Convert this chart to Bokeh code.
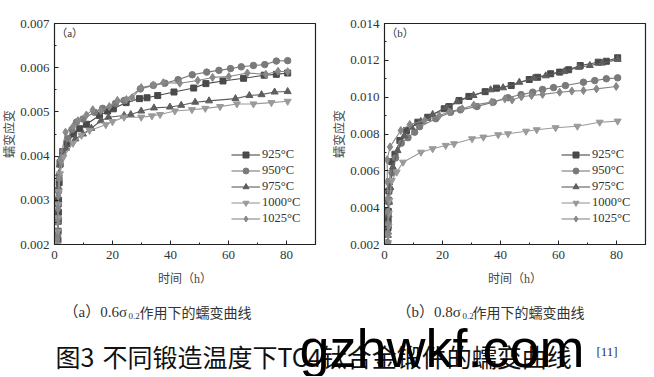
from bokeh.plotting import figure
from bokeh.layouts import row, column
from bokeh.models import Range1d, SingleIntervalTicker, NumeralTickFormatter, Label
from bokeh.core.properties import value
from bokeh.embed import file_html
from bokeh.resources import INLINE

# ---------------- data: (a) 0.6 sigma0.2 ----------------
ta_925 = [1.2,1.25,1.3,1.35,1.4,1.6,1.9,2.8,4.3,6.5,8.7,11.0,15.5,18.3,20.3,24.7,29.3,31.9,35.6,41.2,48.0,52.2,58.1,65.2,72.3,76.5,80.4]
va_925 = [0.0021,0.0023,0.00254,0.00273,0.0030,0.0034,0.00385,0.0041,0.00428,0.0045,0.00462,0.00472,0.00492,0.00502,0.00507,0.00521,0.0053,0.00532,0.00537,0.00545,0.00554,0.00564,0.0057,0.00576,0.00583,0.00585,0.00588]
ta_950 = [1.1,1.2,1.3,1.4,1.6,2.0,2.9,4.6,6.0,7.6,9.8,13.8,16.6,21.0,24.0,29.6,34.1,38.1,42.6,47.5,52.5,56.7,60.7,64.4,68.6,72.5,76.5,80.4]
va_950 = [0.0022,0.0026,0.0029,0.0032,0.0035,0.0038,0.0041,0.0044,0.0046,0.00477,0.00484,0.00499,0.00508,0.00519,0.00526,0.00552,0.0056,0.00565,0.00573,0.00584,0.0059,0.00594,0.00598,0.00602,0.00605,0.00607,0.00615,0.00616]
ta_975 = [1.1,1.2,1.3,1.5,1.8,2.4,4.0,7.2,9.8,12.7,16.0,18.6,24.0,26.3,29.9,34.3,39.8,43.7,48.5,53.3,62.4,67.2,71.4,75.9,80.4]
va_975 = [0.0025,0.0029,0.0033,0.0036,0.0038,0.0040,0.00418,0.00439,0.0045,0.00463,0.0048,0.00488,0.00492,0.00494,0.00502,0.00509,0.00511,0.00515,0.00522,0.00525,0.0053,0.00537,0.00539,0.00545,0.00546]
ta_1000 = [1.0,1.1,1.2,1.3,1.5,1.9,3.1,6.4,9.3,12.1,17.7,20.0,24.0,29.9,33.6,36.4,41.5,47.4,52.0,57.1,62.9,68.6,74.8,80.4]
va_1000 = [0.0020,0.0023,0.0026,0.0029,0.0032,0.0036,0.00398,0.00429,0.00447,0.00458,0.00471,0.00478,0.00488,0.00488,0.00491,0.00494,0.00502,0.00505,0.00508,0.00512,0.00518,0.00518,0.00521,0.00524]
ta_1025 = [1.0,1.1,1.2,1.3,1.5,2.0,3.8,6.4,8.1,11.0,13.2,16.0,18.9,21.7,24.8,26.8,29.9,34.1,37.5,43.2,49.4,54.5,60.1,66.5,72.9,77.1,80.4]
va_1025 = [0.0021,0.0025,0.0028,0.0031,0.0035,0.0039,0.00454,0.00467,0.0048,0.00493,0.00505,0.00503,0.00512,0.00526,0.00528,0.00532,0.00555,0.00561,0.00566,0.00565,0.00571,0.00578,0.0058,0.00588,0.00585,0.00592,0.00591]

# ---------------- data: (b) 0.8 sigma0.2 ----------------
tb_925 = [1.2,1.25,1.3,1.4,1.5,1.7,2.5,3.6,5.3,7.6,11.5,14.9,20.6,22.3,25.7,29.1,34.7,38.6,43.7,49.9,52.8,57.3,60.4,63.5,67.5,73.7,76.5,80.4]
vb_925 = [0.0029,0.0033,0.0038,0.0044,0.0049,0.0054,0.0065,0.0069,0.00765,0.00819,0.00864,0.00891,0.00937,0.00949,0.00982,0.01004,0.0103,0.01049,0.01063,0.01096,0.01108,0.01127,0.01136,0.01149,0.01172,0.0119,0.01195,0.01214]
tb_950 = [1.0,1.1,1.2,1.3,1.5,1.8,2.6,3.8,5.8,8.1,10.4,12.1,17.7,22.8,26.2,31.9,37.5,42.6,47.1,51.1,54.5,58.3,62.4,68.6,72.5,76.5,80.4]
vb_950 = [0.0021,0.0026,0.0031,0.0037,0.0043,0.0050,0.0059,0.0067,0.0075,0.0078,0.0081,0.0084,0.00883,0.00918,0.00931,0.00949,0.00973,0.00997,0.01014,0.01027,0.01042,0.01052,0.01063,0.01081,0.0109,0.011,0.01105]
tb_975 = [1.1,1.2,1.3,1.4,1.6,2.0,2.9,4.5,6.8,9.3,12.5,16.6,21.3,25.0,30.7,36.6,40.9,46.5,51.4,55.6,62.0,67.0,70.8,75.0,80.4]
vb_975 = [0.0021,0.0025,0.003,0.0036,0.0043,0.0051,0.0062,0.0071,0.0079,0.00837,0.00868,0.00906,0.00945,0.00975,0.01009,0.0104,0.01051,0.01081,0.01103,0.01116,0.01139,0.01162,0.01172,0.01185,0.01205]
tb_1000 = [1.2,1.3,1.4,1.5,1.7,2.5,4.2,6.4,12.6,16.6,21.1,24.0,30.2,34.1,39.2,42.6,48.8,52.5,59.0,66.5,74.2,80.4]
vb_1000 = [0.0021,0.0025,0.0030,0.0037,0.0044,0.00547,0.00593,0.00647,0.00701,0.0072,0.00738,0.00747,0.00774,0.00783,0.00796,0.00801,0.00815,0.00823,0.00834,0.00842,0.00864,0.0087]
tb_1025 = [1.3,1.3,1.2,1.2,1.1,1.0,0.9,1.9,5.6,8.7,13.8,18.9,22.3,26.8,30.8,36.9,41.5,44.0,47.2,50.7,54.5,60.4,64.6,68.6,73.1,79.9]
vb_1025 = [0.0021,0.0026,0.0031,0.0038,0.0045,0.0054,0.0066,0.0073,0.00819,0.00852,0.00873,0.009,0.0092,0.00937,0.00957,0.00973,0.00991,0.00985,0.01002,0.01009,0.01015,0.01027,0.01033,0.01036,0.01045,0.01058]

series_labels = ["925°C", "950°C", "975°C", "1000°C", "1025°C"]
markers = ["square", "circle", "triangle", "inverted_triangle", "diamond"]
marker_sizes = [6, 6.5, 7, 7, 8]
colors = ["#4a4a4a", "#7a7a7a", "#5e5e5e", "#9a9a9a", "#888888"]

x_label = "时间（h）"
y_label = "蠕变应变"
sub_a = ["（a）0.6σ", "0.2", "作用下的蠕变曲线"]
sub_b = ["（b）0.8σ", "0.2", "作用下的蠕变曲线"]
caption_head = "图3"
caption_body = "不同锻造温度下TC4钛合金锻件的蠕变曲线"
caption_ref = "[11]"
watermark = "gzhwkf.com"

SERIF = "'Liberation Serif', 'Noto Sans CJK SC'"


def make_panel(ts, vs, y0, y1, panel, width, bl, br):
    p = figure(width=width, height=289, x_range=Range1d(0, 90), y_range=Range1d(y0, y1),
               output_backend="svg", toolbar_location=None,
               min_border_left=bl, min_border_right=br, min_border_top=23, min_border_bottom=45)
    p.grid.visible = False
    p.outline_line_color = "#222222"
    p.outline_line_width = 1.2
    p.xaxis.ticker = SingleIntervalTicker(interval=20, num_minor_ticks=2)
    p.yaxis.ticker = SingleIntervalTicker(interval=0.002 if y1 > 0.01 else 0.001, num_minor_ticks=2)
    p.yaxis.formatter = NumeralTickFormatter(format="0.000")
    for ax in (p.xaxis, p.yaxis):
        ax.major_tick_in = 4
        ax.major_tick_out = 0
        ax.minor_tick_in = 2
        ax.minor_tick_out = 0
        ax.axis_line_color = "#222222"
        ax.major_tick_line_color = "#222222"
        ax.minor_tick_line_color = "#222222"
        ax.major_label_text_font = "'Liberation Serif'"
        ax.major_label_text_font_size = "13px"
        ax.major_label_text_color = "#333333"
        ax.axis_label_text_font = SERIF
        ax.axis_label_text_font_size = "12px"
        ax.axis_label_text_font_style = "normal"
        ax.axis_label_text_color = "#444444"
    p.xaxis.axis_label = x_label
    p.yaxis.axis_label = y_label
    p.xaxis.major_label_standoff = 6
    p.xaxis.axis_label_standoff = 10
    p.yaxis.major_label_standoff = 5
    p.yaxis.axis_label_standoff = 0

    for t, v, lab, mk, ms, c in zip(ts, vs, series_labels, markers, marker_sizes, colors):
        p.line(t, v, line_color=c, line_width=1.1, legend_label=lab)
        p.scatter(t, v, marker=mk, size=ms, fill_color=c, line_color=c, legend_label=lab)

    lg = p.legend[0]
    lg.location = (177, 18)
    lg.background_fill_alpha = 0
    lg.border_line_alpha = 0
    lg.padding = 0
    lg.margin = 0
    lg.spacing = 1
    lg.glyph_width = 29
    lg.glyph_height = 15
    lg.label_height = 15
    lg.label_standoff = 2
    lg.label_text_font = "'Liberation Serif'"
    lg.label_text_font_size = "12.5px"
    lg.label_text_color = "#333333"

    p.add_layout(Label(x=0.6, y=y1 - (y1 - y0) * 0.045, text=panel, text_font=SERIF,
                       text_font_size="11px", text_baseline="middle", text_color="#333333"))
    return p


pa = make_panel([ta_925, ta_950, ta_975, ta_1000, ta_1025],
                [va_925, va_950, va_975, va_1000, va_1025], 0.002, 0.007, "（a）", 330, 51, 15)
pb = make_panel([tb_925, tb_950, tb_975, tb_1000, tb_1025],
                [vb_925, vb_950, vb_975, vb_1000, vb_1025], 0.002, 0.014, "（b）", 322, 51, 7)

# caption area (pixel-like coordinate system; y grows downward)
pc = figure(width=652, height=87, x_range=Range1d(0, 652), y_range=Range1d(87, 0),
            output_backend="svg", toolbar_location=None,
            x_axis_location=None, y_axis_location=None, min_border=0)
pc.grid.visible = False
pc.outline_line_color = None

sub_x_a = [63, 128, 139]
sub_x_b = [396, 462, 472]
for xs, parts in ((sub_x_a, sub_a), (sub_x_b, sub_b)):
    pc.text(x=[xs[0]], y=[22], text=[parts[0]], text_font=value(SERIF), text_font_size="15px",
            text_baseline="middle", text_color="#333333")
    pc.text(x=[xs[1]], y=[26], text=[parts[1]], text_font=value("Liberation Serif"), text_font_size="9px",
            text_baseline="middle", text_color="#333333")
    pc.text(x=[xs[2]], y=[22], text=[parts[2]], text_font=value("Noto Sans CJK SC"), text_font_size="14px",
            text_baseline="middle", text_color="#333333")

pc.text(x=[55], y=[66], text=[caption_head], text_font=value("Noto Sans CJK SC"), text_font_size="25px",
        text_baseline="middle", text_color="#111111")
pc.text(x=[102], y=[66], text=[caption_body], text_font=value("Noto Sans CJK SC"), text_font_size="25px",
        text_baseline="middle", text_color="#111111")
pc.text(x=[596], y=[62], text=[caption_ref], text_font=value("Liberation Serif"), text_font_size="13px",
        text_baseline="middle", text_color="#333333")
pc.text(x=[299], y=[58], text=[watermark], text_font=value("Liberation Sans"), text_font_size="54px",
        text_baseline="alphabetic", text_color="#000000")

layout = column(row(pa, pb), pc)
open("out.html", "w").write(file_html(layout, INLINE))
